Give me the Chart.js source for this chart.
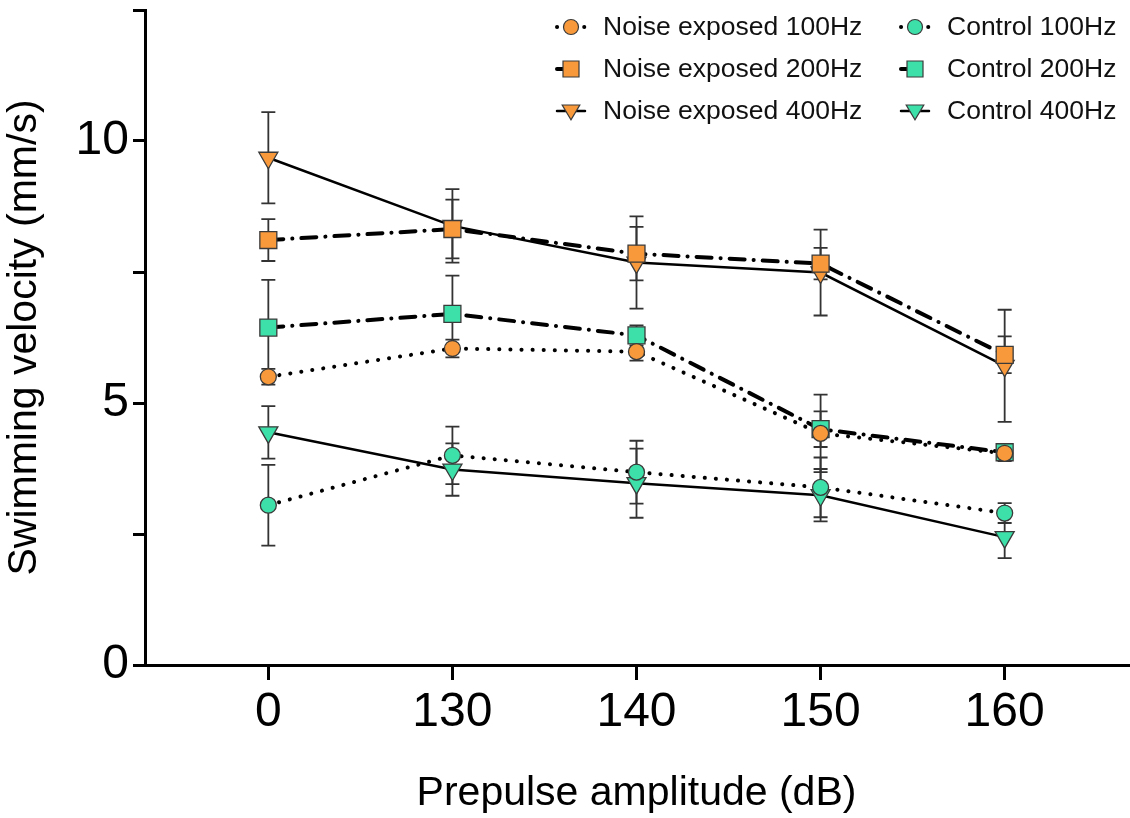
<!DOCTYPE html>
<html>
<head>
<meta charset="utf-8">
<script src="https://cdn.jsdelivr.net/npm/chart.js@4.4.1/dist/chart.umd.min.js"></script>
<style>
  html, body { margin: 0; padding: 0; background: #fff; overflow: hidden; }
  #wrap { width: 1130px; height: 818px; position: relative; }
  canvas { display: block; }
</style>
</head>
<body>
<div id="wrap"><canvas id="grafico-velocidade"></canvas></div>
<script>
// niveis do prepulso (eixo x)
const niveis = ['0', '130', '140', '150', '160'];

// medias e erros
const ne100 = [5.50, 6.04, 5.98, 4.42, 4.04];
const ne100Err = [0.15, 0.17, 0.17, 0.74, 0.15];
const ne200 = [8.11, 8.32, 7.85, 7.66, 5.92];
const ne200Err = [0.40, 0.56, 0.51, 0.30, 0.35];
const ne400 = [9.68, 8.38, 7.68, 7.49, 5.71];
const ne400Err = [0.87, 0.70, 0.88, 0.82, 1.07];
const ct100 = [3.05, 4.00, 3.68, 3.39, 2.90];
const ct100Err = [0.77, 0.55, 0.60, 0.57, 0.19];
const ct200 = [6.44, 6.70, 6.29, 4.50, 4.06];
const ct200Err = [0.91, 0.73, 0.19, 0.34, 0.12];
const ct400 = [4.44, 3.73, 3.47, 3.24, 2.44];
const ct400Err = [0.50, 0.50, 0.66, 0.50, 0.40];

const yRotulos = [0, 5, 10];

const LARANJA = '#f8993b';
const VERDE = '#3ee0a9';
const FONTE = "'Liberation Sans', Arial, Helvetica, sans-serif";

const pontilhado = [0.1, 11];
const tracoPonto = [15, 9, 0.1, 9];

function serie(label, valores, erros, cor, estilo, raio, tracejado, largura, coluna, linha) {
    return {
        label: label,
        data: valores.map((v, i) => ({ x: i, y: v })),
        erros: erros,
        borderColor: '#000',
        borderWidth: largura,
        borderDash: tracejado,
        borderCapStyle: 'round',
        backgroundColor: cor,
        pointStyle: estilo,
        pointRotation: estilo === 'triangle' ? 180 : 0,
        pointRadius: raio,
        pointHoverRadius: raio,
        pointBackgroundColor: cor,
        pointBorderColor: '#3a3a3a',
        pointBorderWidth: 1.3,
        fill: false,
        tension: 0,
        legenda: { coluna: coluna, linha: linha }
    };
}

const datasets = [
    serie('Noise exposed 100Hz', ne100, ne100Err, LARANJA, 'circle', 8, pontilhado, 4, 0, 0),
    serie('Noise exposed 200Hz', ne200, ne200Err, LARANJA, 'rect', 12, tracoPonto, 4, 0, 1),
    serie('Noise exposed 400Hz', ne400, ne400Err, LARANJA, 'triangle', 11, [], 2.5, 0, 2),
    serie('Control 100Hz', ct100, ct100Err, VERDE, 'circle', 8, pontilhado, 4, 1, 0),
    serie('Control 200Hz', ct200, ct200Err, VERDE, 'rect', 12, tracoPonto, 4, 1, 1),
    serie('Control 400Hz', ct400, ct400Err, VERDE, 'triangle', 11, [], 2.5, 1, 2)
];

// barras de erro desenhadas atras dos marcadores
const barrasErro = {
    id: 'barrasErro',
    beforeDatasetsDraw(chart) {
        const ctx = chart.ctx;
        const xs = chart.scales.x;
        const ys = chart.scales.y;
        ctx.save();
        ctx.strokeStyle = '#333';
        ctx.lineWidth = 1.8;
        chart.data.datasets.forEach(ds => {
            ds.data.forEach((p, i) => {
                const e = ds.erros[i];
                const x = xs.getPixelForValue(p.x);
                const yTopo = ys.getPixelForValue(p.y + e);
                const yBase = ys.getPixelForValue(p.y - e);
                ctx.beginPath();
                ctx.moveTo(x, yTopo); ctx.lineTo(x, yBase);
                ctx.moveTo(x - 7, yTopo); ctx.lineTo(x + 7, yTopo);
                ctx.moveTo(x - 7, yBase); ctx.lineTo(x + 7, yBase);
                ctx.stroke();
            });
        });
        ctx.restore();
    }
};

function marcador(ctx, estilo, x, y, r) {
    ctx.beginPath();
    if (estilo === 'circle') {
        ctx.arc(x, y, r, 0, Math.PI * 2);
    } else if (estilo === 'rect') {
        ctx.rect(x - r, y - r, 2 * r, 2 * r);
    } else {
        ctx.moveTo(x - r * 1.1, y - r * 0.75);
        ctx.lineTo(x + r * 1.1, y - r * 0.75);
        ctx.lineTo(x, y + r * 1.1);
        ctx.closePath();
    }
    ctx.fill();
    ctx.stroke();
}

// legenda em duas colunas dentro da area do grafico
const legendaColunas = {
    id: 'legendaColunas',
    afterDraw(chart) {
        const ctx = chart.ctx;
        const colX = [571, 915];
        const linY = [27, 69, 111];
        ctx.save();
        chart.data.datasets.forEach(ds => {
            const cx = colX[ds.legenda.coluna];
            const cy = linY[ds.legenda.linha];
            ctx.strokeStyle = '#000';
            ctx.lineWidth = ds.borderWidth;
            ctx.lineCap = 'round';
            if (ds.borderDash === pontilhado) {
                ctx.setLineDash([0.1, 13.5]);
            } else if (ds.borderDash.length) {
                ctx.setLineDash([9, 30]);
            } else {
                ctx.setLineDash([]);
            }
            ctx.beginPath();
            ctx.moveTo(cx - 14, cy);
            ctx.lineTo(cx + 14, cy);
            ctx.stroke();
            ctx.setLineDash([]);
            ctx.fillStyle = ds.backgroundColor;
            ctx.strokeStyle = '#3a3a3a';
            ctx.lineWidth = 1.2;
            marcador(ctx, ds.pointStyle, cx, cy, ds.pointStyle === 'circle' ? 7.5 : 8);
            ctx.fillStyle = '#111';
            ctx.font = '26.5px ' + FONTE;
            ctx.textBaseline = 'middle';
            ctx.textAlign = 'left';
            ctx.fillText(ds.label, cx + 32, cy + 1);
        });
        ctx.restore();
    }
};

new Chart(document.getElementById('grafico-velocidade').getContext('2d'), {
    type: 'line',
    data: { datasets: datasets },
    plugins: [barrasErro, legendaColunas],
    options: {
        responsive: true,
        maintainAspectRatio: false,
        animation: false,
        layout: { autoPadding: false, padding: { top: 10, right: 2, left: 0, bottom: 0 } },
        plugins: {
            legend: { display: false },
            tooltip: { enabled: false }
        },
        scales: {
            x: {
                type: 'linear',
                min: -0.67,
                max: 4.67,
                afterBuildTicks: s => { s.ticks = niveis.map((_, i) => ({ value: i })); },
                afterFit: s => { s.height = 153; s.paddingLeft = 0; s.paddingRight = 0; },
                grid: { drawOnChartArea: false, color: '#000', lineWidth: 3, tickLength: 15 },
                border: { color: '#000', width: 3 },
                ticks: {
                    callback: v => niveis[v],
                    color: '#000',
                    font: { family: FONTE, size: 48 },
                    padding: 4,
                    maxRotation: 0,
                    autoSkip: false
                },
                title: {
                    display: true,
                    text: 'Prepulse amplitude (dB)',
                    color: '#000',
                    font: { family: FONTE, size: 41 },
                    padding: { top: 0, bottom: 0 }
                }
            },
            y: {
                min: 0,
                max: 12.5,
                afterFit: s => { s.width = 145; s.paddingTop = 0; s.paddingBottom = 0; },
                grid: { drawOnChartArea: false, color: '#000', lineWidth: 3, tickLength: 12 },
                border: { color: '#000', width: 3 },
                ticks: {
                    stepSize: 2.5,
                    callback: v => yRotulos.includes(v) ? String(v) : '',
                    color: '#000',
                    font: { family: FONTE, size: 48 },
                    padding: 4
                },
                title: {
                    display: true,
                    text: 'Swimming velocity (mm/s)',
                    color: '#000',
                    font: { family: FONTE, size: 41 },
                    padding: { top: 0, bottom: 0 }
                }
            }
        }
    }
});
</script>
</body>
</html>
